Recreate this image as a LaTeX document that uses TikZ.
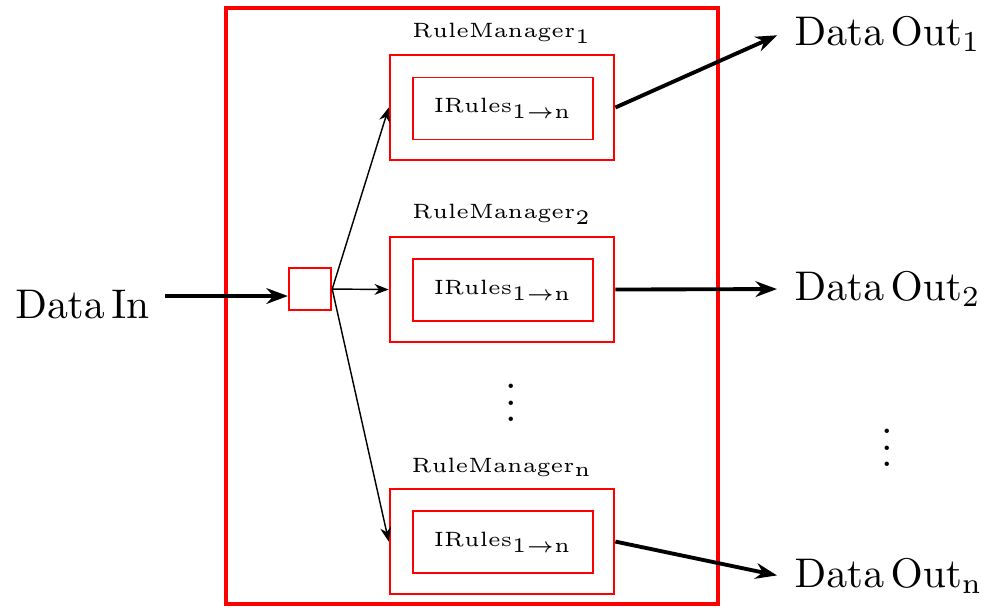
\documentclass[tikz,border=0pt]{standalone}
\usepackage{amsmath}
\usepackage{amssymb}
\usetikzlibrary{arrows.meta}

\tikzset{
	mgr/.style={draw=red, line width=0.6pt, minimum width=54.1pt, minimum height=25.3pt},
	rules/.style={draw=red, line width=0.6pt, minimum width=43.5pt, minimum height=15pt, font=\tiny},
	lbl/.style={font=\tiny},
	fan/.style={-{Stealth[length=5pt,width=3.8pt]}, line width=0.5pt},
	bigarrow/.style={-{Stealth[length=7.5pt,width=5.5pt]}, line width=1.35pt},
}

\begin{document}
\begin{tikzpicture}[x=0.2414pt, y=-0.2414pt, scale=1.45, every node/.style={transform shape}]
				            \useasboundingbox (0,0) rectangle (998,612);

				            \node[draw=red, line width=1.5pt, minimum width=118.8pt, minimum height=143.9pt] (F) at (472,306) {};
				            \node[draw=red, line width=0.6pt, minimum size=10.1pt] (S) at (310,289) {};

				            \node[mgr] (M1) at (502,107.5) {};
				            \node[mgr] (M2) at (502,289.5) {};
				            \node[mgr] (Mn) at (502,541.5) {};
				            \node[rules] (R1) at (503,108.5) {$\mathrm{IRules_{1\rightarrow n}}$};
				            \node[rules] (R2) at (503,290) {$\mathrm{IRules_{1\rightarrow n}}$};
				            \node[rules] (Rn) at (503,542) {$\mathrm{IRules_{1\rightarrow n}}$};
				            \node[lbl] (L1) at (502,33) {$\mathrm{RuleManager_1}$};
				            \node[lbl] (L2) at (502,214) {$\mathrm{RuleManager_2}$};
				            \node[lbl] (Ln) at (502,467) {$\mathrm{RuleManager_n}$};
				            \node[anchor=base] (D1) at (511,422) {$\vdots$};

				            \node[anchor=east] (In) at (164,304) {$\mathrm{Data\,In}$};
				            \node[anchor=west] (O1) at (780,34) {$\mathrm{Data\,Out_1}$};
				            \node[anchor=west] (O2) at (780,289) {$\mathrm{Data\,Out_2}$};
				            \node[anchor=west] (On) at (780,576) {$\mathrm{Data\,Out_n}$};
				            \node[anchor=base] (D2) at (887,467) {$\vdots$};
				            \coordinate (A) at (165,296);

				            \draw[bigarrow] (A) -- (A -| S.west);
				            \draw[fan] (S.east) -- (M1.west);
				            \draw[fan] (S.east) -- (M2.west);
				            \draw[fan] (S.east) -- (Mn.west);
				            \draw[bigarrow, shorten >=1.1pt] (M1.east) -- (O1.west);
				            \draw[bigarrow, shorten >=1.1pt] (M2.east) -- (O2.west);
				            \draw[bigarrow, shorten >=1.1pt] (Mn.east) -- (On.west);

			            \end{tikzpicture}
\end{document}
